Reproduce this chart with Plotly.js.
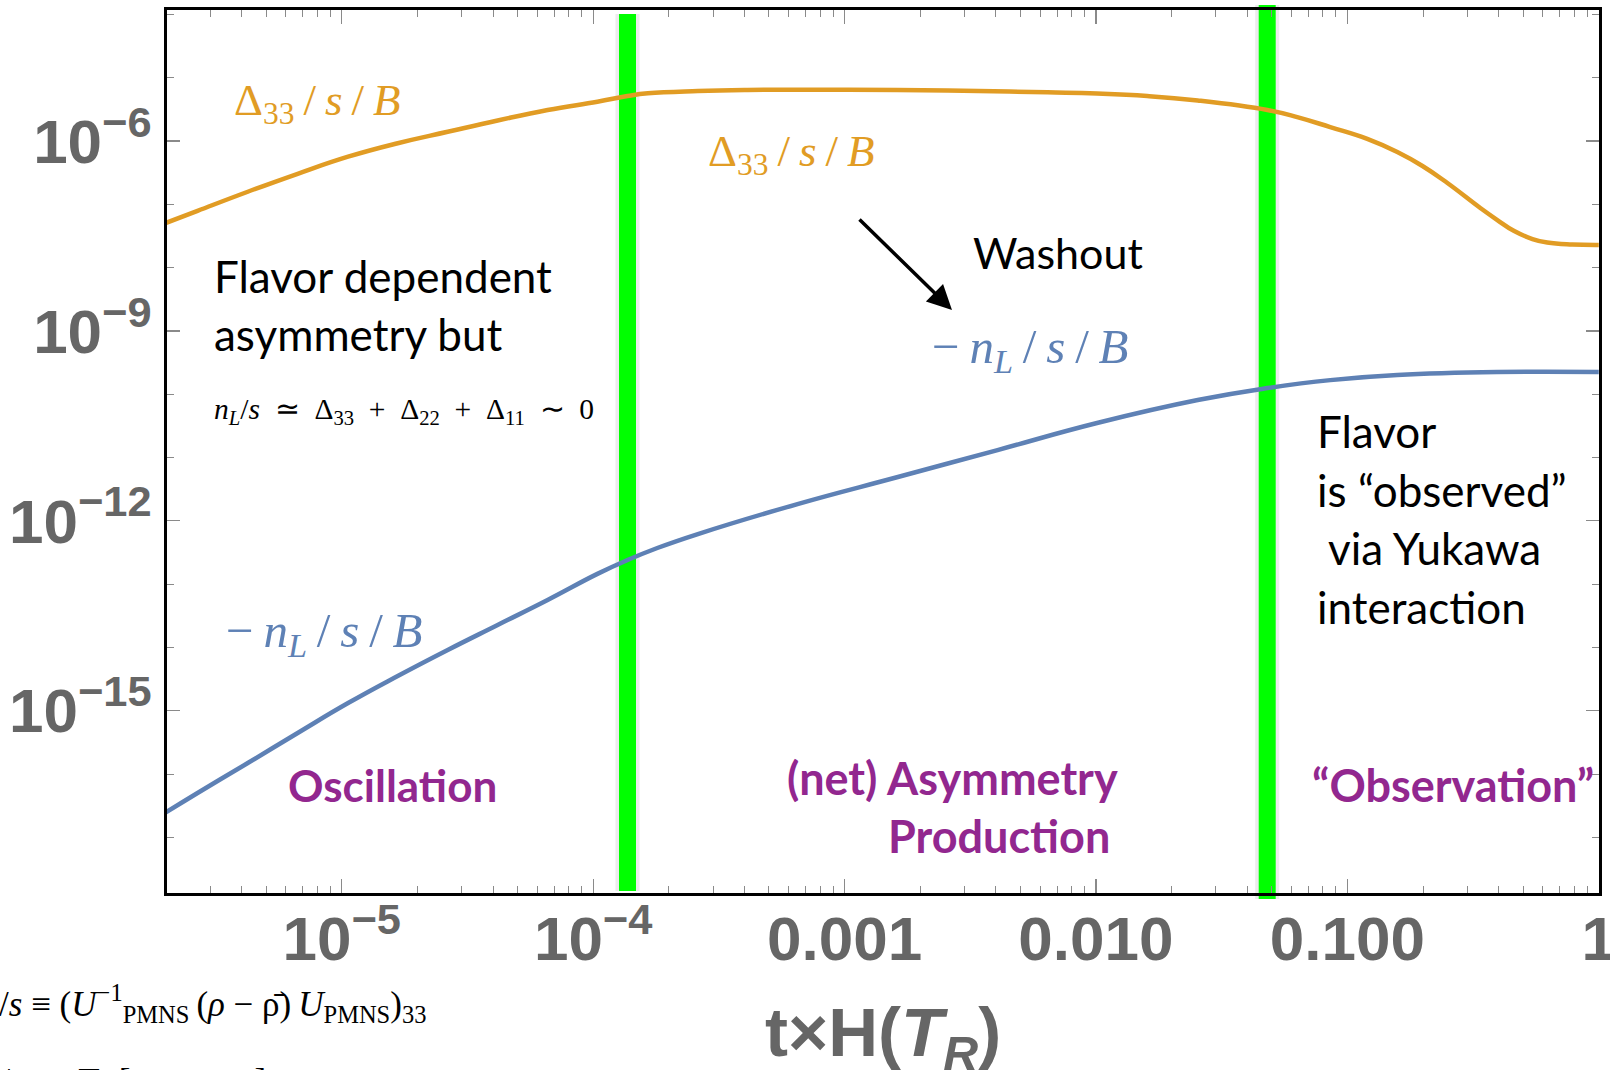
<!DOCTYPE html>
<html>
<head>
<meta charset="utf-8">
<script src="https://cdn.plot.ly/plotly-3.0.1.min.js"></script>
<style>html,body{margin:0;padding:0;background:#fff;}#chart{width:1610px;height:1070px;}</style>
</head>
<body>
<div id="chart"></div>
<script>
// ---- data ----
const orangeX = [1.98e-6, 2.67e-6, 4.23e-6, 6.68e-6, 1.06e-5, 1.67e-5, 2.64e-5, 4.17e-5, 6.59e-5, 1.04e-4, 1.37e-4, 1.65e-4, 2.61e-4, 4.11e-4, 1.03e-3, 2.57e-3, 6.41e-3, 1.01e-2, 1.60e-2, 2.54e-2, 4.81e-2, 6.32e-2, 8.55e-2, 0.120, 0.158, 0.199, 0.250, 0.338, 0.395, 0.461, 0.545, 0.624, 0.785, 1.0];
const orangeY = [5.01e-8, 7.89e-8, 1.58e-7, 3.04e-7, 5.65e-7, 9.23e-7, 1.40e-6, 2.11e-6, 3.09e-6, 4.18e-6, 5.14e-6, 5.68e-6, 6.17e-6, 6.40e-6, 6.44e-6, 6.28e-6, 5.87e-6, 5.62e-6, 5.14e-6, 4.37e-6, 3.09e-6, 2.39e-6, 1.66e-6, 1.08e-6, 6.70e-7, 4.03e-7, 2.17e-7, 8.75e-8, 5.65e-8, 3.78e-8, 2.83e-8, 2.49e-8, 2.32e-8, 2.28e-8];
const blueX = [1.98e-6, 2.67e-6, 4.23e-6, 6.68e-6, 1.06e-5, 1.67e-5, 2.64e-5, 4.17e-5, 6.59e-5, 1.04e-4, 1.37e-4, 1.80e-4, 2.61e-4, 6.50e-4, 1.63e-3, 4.06e-3, 1.01e-2, 2.54e-2, 4.81e-2, 8.55e-2, 0.158, 0.395, 1.0];
const blueY = [2.42e-17, 5.01e-17, 1.49e-16, 4.45e-16, 1.32e-15, 3.53e-15, 9.10e-15, 2.26e-14, 5.61e-14, 1.45e-13, 2.40e-13, 3.72e-13, 6.18e-13, 1.84e-12, 4.92e-12, 1.31e-11, 3.51e-11, 8.09e-11, 1.25e-10, 1.67e-10, 2.01e-10, 2.24e-10, 2.24e-10];
const phaseBoundaries = [1.37e-4, 0.048];
const xTickVals = [1e-5, 1e-4, 1e-3, 1e-2, 1e-1, 1];
const xTickText = ['10<sup>−5</sup>', '10<sup>−4</sup>', '0.001', '0.010', '0.100', '1'];
const yTickVals = [1e-6, 1e-9, 1e-12, 1e-15];
const yTickText = ['10<sup>−6</sup>', '10<sup>−9</sup>', '10<sup>−12</sup>', '10<sup>−15</sup>'];
const xTitle = 't×H(<i>T<sub>R</sub></i>)';

// ---- layout helpers ----
const M = {l: 167, r: 11, t: 10, b: 177};
const W = 1610, H = 1070;
const PW = W - M.l - M.r, PH = H - M.t - M.b;
const px = X => (X - M.l) / PW;
const py = Y => (H - M.b - Y) / PH;

const xMinor = [];
for (let e = -6; e <= -1; e++) for (let k = 2; k <= 9; k++) xMinor.push(k * Math.pow(10, e));
const yMinor = [];
for (let e = -4; e >= -17; e--) yMinor.push(Math.pow(10, e));

const ORANGE = '#E19C24', BLUE = '#5E81B5', PURPLE = '#92278F';
const SERIF = 'Liberation Serif, Times New Roman, serif';
const SANS = 'Lato, Open Sans, sans-serif';
const TICKFAM = 'Liberation Sans, Arial, sans-serif';
const TS = '\u2009';
const NB = '\u00A0';

function txt(text, X, Y, opts) {
  return Object.assign({
    text: text, xref: 'paper', yref: 'paper', x: px(X), y: py(Y),
    xanchor: 'left', yanchor: 'middle', showarrow: false
  }, opts);
}

const deltaLabel = 'Δ<sub>33</sub>' + TS + '/' + TS + '<i>s</i>' + TS + '/' + TS + '<i>B</i>';
const nLabel = '−' + TS + '<i>n</i><sub><i>L</i></sub>' + TS + '/' + TS + '<i>s</i>' + TS + '/' + TS + '<i>B</i>';

const annotations = [
  txt(deltaLabel, 232, 103, {font: {family: SERIF, size: 45, color: ORANGE}}),
  txt(deltaLabel, 706, 154, {font: {family: SERIF, size: 45, color: ORANGE}}),
  txt('Flavor dependent', 212, 276, {font: {family: SANS, size: 44, color: '#000'}}),
  txt('asymmetry but', 212, 334, {font: {family: SANS, size: 44, color: '#000'}}),
  txt('<i>n</i><sub><i>L</i></sub>/<i>s</i>' + NB + NB + '≃' + NB + NB + 'Δ<sub>33</sub>' + NB + NB + '+' + NB + NB + 'Δ<sub>22</sub>' + NB + NB + '+' + NB + NB + 'Δ<sub>11</sub>' + NB + NB + '∼' + NB + NB + '0', 212, 411, {font: {family: SERIF, size: 29.5, color: '#000'}}),
  txt('Washout', 971, 252, {font: {family: SANS, size: 43, color: '#000'}}),
  {text: '', xref: 'paper', yref: 'paper', x: px(952), y: py(310), ax: -94, ay: -92,
   showarrow: true, arrowhead: 2, arrowsize: 1.4, arrowwidth: 3.5, arrowcolor: '#000', standoff: 0},
  txt(nLabel, 930, 349, {font: {family: SERIF, size: 49, color: BLUE}}),
  txt(nLabel, 224, 633, {font: {family: SERIF, size: 49, color: BLUE}}),
  txt('Flavor', 1315, 431, {font: {family: SANS, size: 44, color: '#000'}}),
  txt('is “observed”', 1315, 490, {font: {family: SANS, size: 44, color: '#000'}}),
  txt('via Yukawa', 1326, 548, {font: {family: SANS, size: 44, color: '#000'}}),
  txt('interaction', 1315, 607, {font: {family: SANS, size: 44, color: '#000'}}),
  txt('Oscillation', 392, 785, {xanchor: 'center', font: {family: SANS, size: 44, color: PURPLE, weight: 'bold'}}),
  txt('(net) Asymmetry', 1120, 778, {xanchor: 'right', font: {family: SANS, size: 45, color: PURPLE, weight: 'bold'}}),
  txt('Production', 1112, 836, {xanchor: 'right', font: {family: SANS, size: 45, color: PURPLE, weight: 'bold'}}),
  txt('“Observation”', 1310, 785, {font: {family: SANS, size: 45, color: PURPLE, weight: 'bold'}}),
  txt('Δ<sub>33</sub>/<i>s</i>' + NB + '≡' + NB + '(<i>U</i><sup>−1</sup><sub>PMNS</sub>' + TS + '(<i>ρ</i>' + NB + '−' + NB + 'ρ̄)' + TS + '<i>U</i><sub>PMNS</sub>)<sub>33</sub>', 428, 1004, {xanchor: 'right', font: {family: SERIF, size: 35, color: '#000'}}),
  txt('<i>n</i><sub><i>L</i></sub>/<i>s</i>' + NB + NB + '≡' + NB + NB + 'Tr' + NB + '[' + NB + '<i>ρ</i>' + NB + NB + '−' + NB + NB + 'ρ̄' + NB + NB + NB + ']', 268, 1083, {xanchor: 'right', font: {family: SERIF, size: 35, color: '#000'}}),
  // x-axis title (placed as an annotation so it can sit at the very bottom like the reference)
  txt(xTitle, 883, 1037, {xanchor: 'center', font: {family: TICKFAM, size: 69, color: '#666666', weight: 'bold'}})
];

const shapes = [];
phaseBoundaries.forEach((v, i) => {
  const y0 = i === 0 ? py(891) : py(899);
  const y1 = i === 0 ? py(14) : py(5);
  shapes.push({type: 'line', layer: 'below', xref: 'x', yref: 'paper', x0: v, x1: v, y0: y0, y1: y1,
    line: {color: 'rgba(150,150,150,0.18)', width: 24}});
  shapes.push({type: 'line', layer: 'below', xref: 'x', yref: 'paper', x0: v, x1: v, y0: y0, y1: y1,
    line: {color: '#00FF00', width: 17}});
});

const traces = [
  {x: orangeX, y: orangeY, type: 'scatter', mode: 'lines', name: 'Δ33/s/B',
   line: {color: ORANGE, width: 4.5, shape: 'spline', smoothing: 1.3}},
  {x: blueX, y: blueY, type: 'scatter', mode: 'lines', name: '−nL/s/B',
   line: {color: BLUE, width: 4.5, shape: 'spline', smoothing: 1.3}}
];

const tickFont = {family: TICKFAM, size: 62, color: '#666666', weight: 'bold'};

const layout = {
  width: W, height: H,
  margin: M,
  paper_bgcolor: '#fff', plot_bgcolor: '#fff',
  showlegend: false,
  xaxis: {
    type: 'log', range: [-5.695, 0.001], autorange: false,
    showline: true, linecolor: '#000', linewidth: 3, mirror: 'allticks',
    showgrid: false, zeroline: false,
    ticks: 'inside', ticklen: 14, tickwidth: 1.2, tickcolor: '#8a8a8a',
    tickmode: 'array', tickvals: xTickVals, ticktext: xTickText,
    tickfont: tickFont, ticklabelstandoff: -10, ticklabeloverflow: 'allow',
    minor: {tickmode: 'array', tickvals: xMinor, ticks: 'inside', ticklen: 7, tickwidth: 1, tickcolor: '#8a8a8a', showgrid: false},
    title: {text: ''},
    automargin: false
  },
  yaxis: {
    type: 'log', range: [-17.88, -3.93], autorange: false,
    showline: true, linecolor: '#000', linewidth: 3, mirror: 'allticks',
    showgrid: false, zeroline: false,
    ticks: 'inside', ticklen: 13, tickwidth: 1.2, tickcolor: '#8a8a8a',
    tickmode: 'array', tickvals: yTickVals, ticktext: yTickText,
    tickfont: tickFont, ticklabelstandoff: 0, ticklabeloverflow: 'allow',
    minor: {tickmode: 'array', tickvals: yMinor, ticks: 'inside', ticklen: 7, tickwidth: 1, tickcolor: '#8a8a8a', showgrid: false},
    automargin: false
  },
  shapes: shapes,
  annotations: annotations
};

Plotly.newPlot('chart', traces, layout, {displayModeBar: false, staticPlot: true});
</script>
</body>
</html>
